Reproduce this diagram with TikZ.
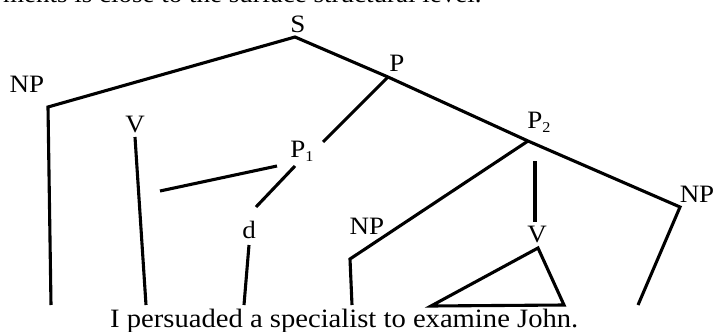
\documentclass[tikz,border=0pt]{standalone}
\usepackage{fontspec}
\setmainfont{Liberation Serif}[FakeStretch=1.08]
\newcommand\lowsub[1]{\raisebox{-0.35ex}{\fontsize{15}{15}\selectfont #1}}
\begin{document}
\begin{tikzpicture}[x=1pt,y=-1pt,
  branch/.style={line width=3.1pt, line join=miter},
  cat/.style={inner sep=0pt, font=\fontsize{25}{25}\selectfont},
  words/.style={inner sep=0pt, font=\fontsize{26.5}{26.5}\selectfont}]
\useasboundingbox (0,0) rectangle (715,332);

% end of the preceding text line, cut by the page edge
\node[cat, anchor=base west] (prev) at (3,2.5) {ments is close to the surface structural level.};

% category labels
\node[cat] (S)   at (298,24)  {S};
\node[cat] (NPa) at (27,84)   {NP};
\node[cat] (Va)  at (135,125) {V};
\node[cat] (P)   at (397,63)  {P};
\node[cat] (P1)  at (302,151) {P\lowsub{1}};
\node[cat] (P2)  at (539,122) {P\lowsub{2}};
\node[cat] (d)   at (249,230) {d};
\node[cat] (NPb) at (367,226) {NP};
\node[cat] (Vb)  at (537,235) {V};
\node[cat] (NPc) at (697,194) {NP};

% branching points and line ends
\coordinate (s)    at (295,37);
\coordinate (p)    at (388,77);
\coordinate (p2)   at (528,141);
\coordinate (npa)  at (48,107);
\coordinate (npa0) at (51,305);
\coordinate (va1)  at (135,137);
\coordinate (va0)  at (146,305);
\coordinate (p1a)  at (323,142);
\coordinate (p1b)  at (277,166);
\coordinate (p1c)  at (160,191);
\coordinate (p1d)  at (295,166);
\coordinate (p1e)  at (256,207);
\coordinate (d1)   at (249,245);
\coordinate (d0)   at (244,305);
\coordinate (npb)  at (350,259);
\coordinate (npb0) at (352,305);
\coordinate (vb1)  at (535,161);
\coordinate (vb0)  at (535,222);
\coordinate (tv)   at (538,248);
\coordinate (tl)   at (431,306);
\coordinate (tr)   at (564,305);
\coordinate (npc)  at (680,207);
\coordinate (npc0) at (638,305);

% branches
\draw[branch] (npa0) -- (npa) -- (s) -- (p) -- (p2) -- (npc) -- (npc0);
\draw[branch] (va1) -- (va0);
\draw[branch] (p) -- (p1a);
\draw[branch] (p1b) -- (p1c);
\draw[branch] (p1d) -- (p1e);
\draw[branch] (d1) -- (d0);
\draw[branch] (p2) -- (npb) -- (npb0);
\draw[branch] (vb1) -- (vb0);
\draw[branch] (tv) -- (tl) -- (tr) -- cycle;

% the sentence
\node[words, anchor=base west] (sent) at (110,327) {I persuaded a specialist to examine John.};
\end{tikzpicture}
\end{document}
